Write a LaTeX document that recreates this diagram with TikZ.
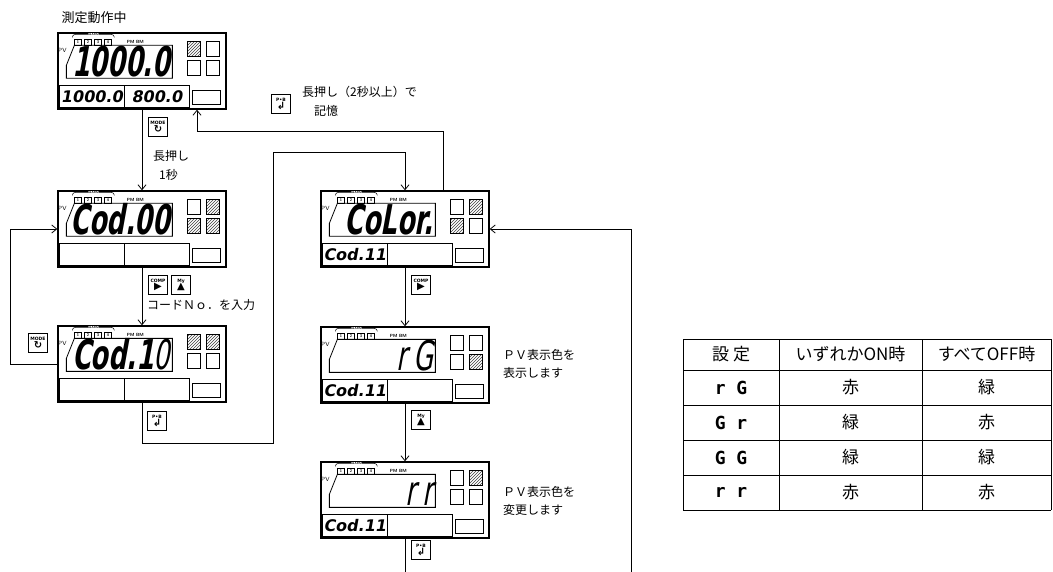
\documentclass[tikz,border=0pt]{standalone}
\usepackage{fontspec}
\usetikzlibrary{positioning, arrows.meta, patterns}
\newfontfamily\jp{Noto Sans CJK JP}
\newfontfamily\segbig[FakeStretch=0.62,FakeSlant=0.18]{DejaVu Sans}
\newfontfamily\segsmall[FakeSlant=0.18]{DejaVu Sans}
\newfontfamily\segtab{DejaVu Sans Mono}
\newfontfamily\keysym{DejaVu Sans}

\tikzset{
  flow/.style={line width=0.8pt, -{Straight Barb[length=5pt,width=8pt]}},
  wire/.style={line width=0.8pt},
  lcdframe/.style={draw, line width=1.3pt, minimum width=168pt, minimum height=76pt, inner sep=0pt},
  lit/.style={pattern=north east lines, pattern color=black!75},
  unlit/.style={},
  almbox/.style={draw, line width=0.5pt, minimum width=7pt, minimum height=6pt, inner sep=0pt, font=\fontsize{4}{4}\selectfont\sffamily\bfseries},
  tag/.style={font=\fontsize{4.5}{5}\selectfont\sffamily\bfseries, inner sep=0pt},
  bigseg/.style={font=\segbig\bfseries\fontsize{41}{41}\selectfont, inner sep=0pt},
  smallseg/.style={font=\segsmall\bfseries\fontsize{16}{16}\selectfont, inner sep=0pt},
  tabseg/.style={font=\segtab\bfseries\fontsize{18}{18}\selectfont, inner sep=0pt},
  keybox/.style={draw, line width=0.8pt, minimum size=19pt, inner sep=0pt, align=center, font=\keysym\bfseries\fontsize{4.5}{5.5}\selectfont},
  note/.style={font=\jp\fontsize{12}{17.5}\selectfont, inner sep=0pt, anchor=west},
  cell/.style={font=\jp\fontsize{17}{17}\selectfont, inner sep=0pt},
}

% one front panel: name, centre, main text, lower texts, four lamps
\newcommand\lcd[9]{%
  \node[lcdframe] (#1) at (#2) {};
  \begin{scope}[shift={(#1.north west)}]
    \draw[line width=0.5pt] (15,5) to[out=90,in=180] (18,2) -- (54,2) to[out=0,in=90] (57,5);
    \node[tag, fill=white, font=\fontsize{3}{3}\selectfont\sffamily\bfseries] at (36,2) {ALARM};
    \foreach \i in {1,...,4} \node[almbox] at ({10*\i+10.5},9.5) {\i};
    \node[tag] at (78,10) {PM BM};
    \node[tag, font=\fontsize{6}{6}\selectfont\sffamily] at (5,18) {PV};
    \draw[line width=0.8pt] (17,13) -- (115,13) -- (115,46) -- (9,46) -- (9,33) -- cycle;
    \node[bigseg, anchor=base east] at (113,44) {#3};
    \draw[line width=0.8pt, #6] (130,9) rectangle (143,24);
    \draw[line width=0.8pt, #7] (149,9) rectangle (162,24);
    \draw[line width=0.8pt, #8] (130,28) rectangle (143,43);
    \draw[line width=0.8pt, #9] (149,28) rectangle (162,43);
    \draw[line width=0.8pt] (2,53) rectangle (67,75) (67,53) rectangle (132,75) (135,58) rectangle (163,72);
    \node[smallseg, anchor=base] at (34.5,70) {#4};
    \node[smallseg, anchor=base] at (99.5,70) {#5};
  \end{scope}}
\newcommand\keylab[2]{#1\\[-0.5pt]{\fontsize{10}{10}\selectfont #2}}

\begin{document}
\begin{tikzpicture}[x=1pt, y=-1pt]
\path[fill=white, use as bounding box] (0,0) rectangle (1053,572);

% panels
\lcd{run}{142,71}{1000.0}{1000.0}{800.0}{lit}{unlit}{unlit}{unlit}
\lcd{code}{142,229}{Cod.00}{}{}{unlit}{lit}{lit}{lit}
\lcd{codein}{142,364}{Cod.1{\mdseries 0}}{}{}{lit}{lit}{unlit}{unlit}
\lcd{color}{405,229}{CoLor.}{Cod.11}{}{unlit}{lit}{lit}{unlit}
\lcd{show}{405,365}{{\mdseries r\,G}}{Cod.11}{}{unlit}{unlit}{unlit}{lit}
\lcd{change}{405,500}{{\mdseries r\,r}}{Cod.11}{}{unlit}{lit}{unlit}{unlit}

% keys
\node[keybox] (mode1) at (158,127) {\keylab{MODE}{↻}};
\node[keybox] (comp1) at (158,285) {\keylab{COMP}{▶}};
\node[keybox] (my1) at (181,285) {\keylab{My}{▲}};
\node[keybox] (mode2) at (38,343) {\keylab{MODE}{↻}};
\node[keybox] (save1) at (157,421) {\keylab{P•B}{↲}};
\node[keybox] (save0) at (281,104) {\keylab{P•B}{↲}};
\node[keybox] (comp2) at (421,285) {\keylab{COMP}{▶}};
\node[keybox] (my2) at (421,420) {\keylab{My}{▲}};
\node[keybox] (save2) at (421,550) {\keylab{P•B}{↲}};

% texts
\node[font=\jp\fontsize{13}{13}\selectfont, inner sep=0pt] (title) at (94,18) {測定動作中};
\node[note] (hold) at (153,156) {長押し};
\node[note] (sec) at (159,175) {1秒};
\node[note] (holdlong) at (302,92) {長押し（2秒以上）で};
\node[note] (mem) at (314,111) {記憶};
\node[note] (codetxt) at (147,305) {コードＮｏ．を入力};
\node[note, align=left] (showtxt) at (503,364) {ＰＶ表示色を\\表示します};
\node[note, align=left] (changetxt) at (503,501) {ＰＶ表示色を\\変更します};

% connectors
\coordinate (back) at (197,131);
\coordinate (low) at (273,443);
\coordinate (high) at (273,152);
\coordinate (offleft) at (405,572);
\coordinate (offright) at (631,572);
\draw[flow] (run) -- (code);
\draw[flow] ([xshift=38pt]color.north) |- (back) -- (back |- run.south);
\draw[flow] (code) -- (codein);
\draw[flow] (codein.west) -- ++(-47,0) |- (code.west);
\draw[flow] (codein.south) |- (low) -- (high) -| (color.north);
\draw[flow] (color) -- (show);
\draw[flow] (show) -- (change);
\draw[wire] (change.south) -- (offleft);
\draw[flow] (offright) |- (color.east);

% colour table
\foreach \y in {339,370,405,440,475,510} \draw[wire] (683,\y) -- (1051,\y);
\foreach \x in {683,779,922,1051} \draw[wire] (\x,339) -- (\x,510);
\node[cell] (hset) at (731,354.5) {設\hspace{4pt}定};
\node[cell] (hon) at (850.5,354.5) {いずれかON時};
\node[cell] (hoff) at (986.5,354.5) {すべてOFF時};
\foreach \s/\a/\b [count=\r] in {r~G/赤/緑, G~r/緑/赤, G~G/緑/緑, r~r/赤/赤} {
  \node[tabseg] (set\r) at (731,{352.5+35*\r}) {\s};
  \node[cell] (on\r) at (850.5,{352.5+35*\r}) {\a};
  \node[cell] (off\r) at (986.5,{352.5+35*\r}) {\b};
}
\end{tikzpicture}
\end{document}
